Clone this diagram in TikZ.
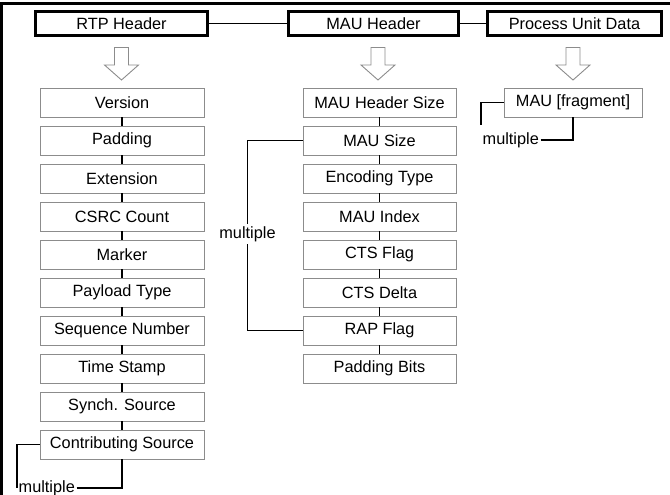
\documentclass[tikz,border=0pt]{standalone}
\usepackage{fontspec}
\setmainfont{Liberation Sans}
\definecolor{boxgray}{RGB}{140,140,140}
\begin{document}
\begin{tikzpicture}[x=1pt,y=-1pt,
  every node/.style={font=\fontsize{16.3}{19}\selectfont},
  hdr/.style={draw=black,line width=2.8pt,minimum width=#1,minimum height=24.5pt,inner sep=0pt},
  item/.style={draw=boxgray,line width=0.9pt,fill=white,minimum width=#1,minimum height=29pt,inner sep=0pt},
  conn/.style={black,line width=1.5pt},
  lbl/.style={inner sep=1.5pt},
  hollow/.style={draw=boxgray,line width=0.9pt,fill=white}]
\useasboundingbox (0,0) rectangle (670,495);
\draw[line width=3pt] (1.5,495) -- (1.5,3.5) -- (670,3.5);
% headers
\node[hdr=172pt] (h1) at (121.5,23.5) {RTP Header};
\node[hdr=170pt] (h2) at (373.5,23.5) {MAU Header};
\node[hdr=174pt] (h3) at (574.5,23.5) {Process Unit Data};
\draw[conn] (h1.east) -- (h2.west);
\draw[conn] (h2.east) -- (h3.west);
% hollow arrows
\foreach \cx in {121.5,378,573}
  \draw[hollow] ({\cx-7},47.5) -- ({\cx+7},47.5) -- ({\cx+7},65) -- ({\cx+17},65)
    -- (\cx,80) -- ({\cx-17},65) -- ({\cx-7},65) -- cycle;
% RTP fields
\foreach \t [count=\i] in {Version,Padding,Extension,CSRC Count,Marker,Payload Type,Sequence Number,Time Stamp,Synch. Source,Contributing Source}
  \node[item=164pt] (r\i) at (122,{102.5+38*(\i-1)}) {\t};
\foreach \i/\j in {1/2,2/3,3/4,4/5,5/6,6/7,7/8,8/9,9/10}
  \draw[conn] (r\i.south) -- (r\j.north);
% MAU fields
\foreach \t [count=\i] in {MAU Header Size,MAU Size,Encoding Type,MAU Index,CTS Flag,CTS Delta,RAP Flag,Padding Bits}
  \node[item=153pt] (s\i) at (379.5,{102.5+38*(\i-1)}) {\t};
\foreach \i/\j in {1/2,2/3,3/4,4/5,5/6,6/7,7/8}
  \draw[conn] (s\i.south) -- (s\j.north);
% process unit data
\node[item=138pt] (f) at (573,102.5) {MAU [fragment]};
% multiple brackets
\node[lbl,anchor=west] (m1) at (17,488) {multiple};
\draw[conn] (r10.west) -| (m1.west);
\draw[conn] (m1.east) -| (r10.south);
\node[inner sep=2.5pt] (m2) at (247.5,234) {multiple};
\draw[conn] (s2.west) -| (m2.north);
\draw[conn] (s7.west) -| (m2.south);
\node[lbl,anchor=west] (m3) at (481,140) {multiple};
\draw[conn] (f.west) -| ([yshift=6pt]m3.north west);
\draw[conn] (m3.east) -| (f.south);
\end{tikzpicture}
\end{document}
